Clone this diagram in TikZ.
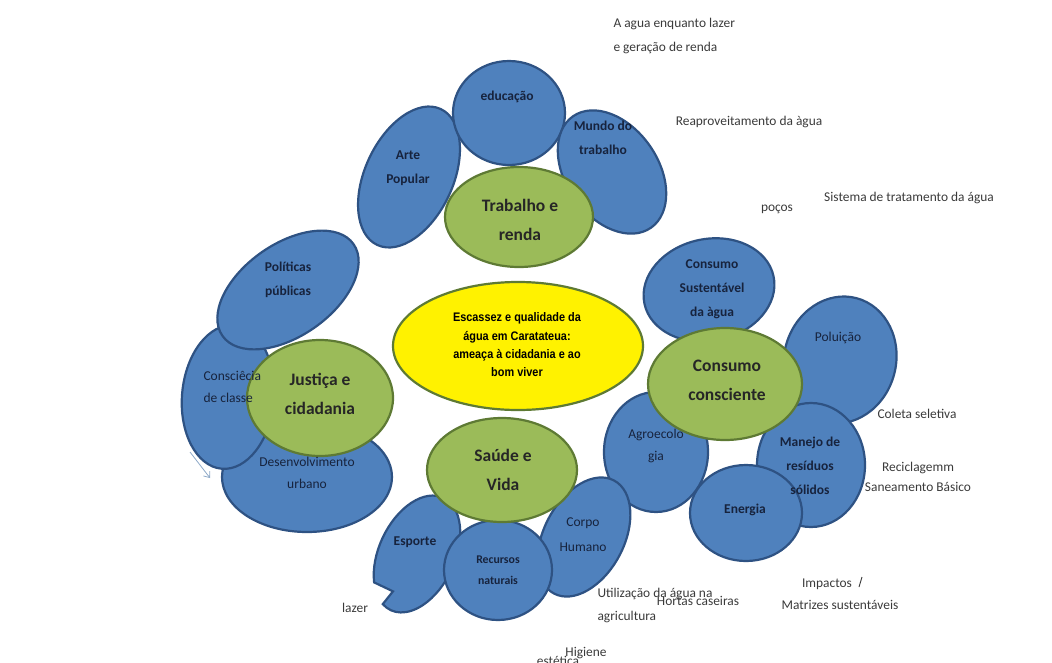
\documentclass[tikz,border=0pt]{standalone}
\usepackage{fontspec}
\setmainfont{Carlito}
\newfontfamily\narrowfont[FakeStretch=0.88]{Liberation Sans}
\usetikzlibrary{shapes.geometric,arrows.meta}

\definecolor{blobfill}{HTML}{4F81BD}
\definecolor{blobline}{HTML}{2E5283}
\definecolor{hubfill}{HTML}{9BBB59}
\definecolor{hubline}{HTML}{5E7A34}
\definecolor{navy}{HTML}{17233D}
\definecolor{notegray}{HTML}{3A3A3A}
\definecolor{steel}{HTML}{8EA9C8}

\tikzset{
  ew/.style 2 args={minimum width=#1pt, minimum height=#2pt},
  blobpaint/.style={draw=blobline, fill=blobfill, line width=2.2pt},
  blob/.style={ellipse, blobpaint, inner sep=0pt},
  hub/.style={ellipse, draw=hubline, fill=hubfill, line width=2.2pt, inner sep=0pt},
  core/.style={ellipse, draw=hubline, fill=yellow, line width=2.2pt, inner sep=0pt},
  btxt/.style={align=center, text=navy, font=\fontsize{13.5}{24}\selectfont\bfseries},
  ntxt/.style={align=center, text=navy, font=\fontsize{13.5}{22}\selectfont},
  htxt/.style={align=center, text=black!85, font=\fontsize{17.5}{29}\selectfont\bfseries},
  note/.style={align=center, text=notegray, font=\fontsize{13.4}{24}\selectfont},
}

\begin{document}
\begin{tikzpicture}[x=1pt, y=-1pt]
\useasboundingbox (0,0) rectangle (1052,662);

% Justica e cidadania
\node[blob, ew={170}{110}] (desurb) at (307,477) {};
\node[blob, ew={144}{92}, rotate=85] (consc) at (228,397) {};
\node[blob, ew={160}{92}, rotate=35] (polit) at (288,290) {};
\node[hub, ew={146}{116}] (justica) at (320,398) {};

% Trabalho e renda
\node[blob, ew={150}{88}, rotate=65] (arte) at (409,177) {};
\node[blob, ew={112}{104}] (edu) at (509,113) {};
\node[blob, ew={136}{92}, rotate=-55] (mundo) at (612,172) {};
\node[hub, ew={148}{100}] (trabalho) at (519,217) {};

% Consumo consciente
\node[blob, ew={132}{102}, rotate=12] (sust) at (709,290) {};
\node[blob, ew={128}{112}, rotate=75] (polui) at (840,360) {};
\node[blob, ew={104}{120}] (agro) at (656,452) {};
\node[blob, ew={108}{124}] (manejo) at (811,465) {};
\node[blob, ew={112}{96}] (energia) at (746,513) {};
\node[hub, ew={154}{112}] (consumo) at (725,384) {};

% Saude e Vida
\begin{scope}[shift={(417,554)}, rotate=65]
  \draw[blobpaint] (225:62 and 38) arc[start angle=225, end angle=555, x radius=62, y radius=38]
    -- (-44,-6) -- cycle; % esporte
\end{scope}
\node[blob, ew={128}{80}, rotate=62] (corpo) at (584,537) {};
\node[blob, ew={108}{100}] (recursos) at (498,570) {};
\node[hub, ew={150}{104}] (saude) at (502,470) {};

% centre
\node[core, ew={250}{128}] (tema) at (518,346) {};

% labels
\node[htxt] (trabalho-t) at (520,220) {Trabalho e\\renda};
\node[htxt] (justica-t) at (320,394) {Justiça e\\cidadania};
\node[htxt] (consumo-t) at (727,380) {Consumo\\consciente};
\node[htxt] (saude-t) at (503,470) {Saúde e\\Vida};
\node[align=center, font=\narrowfont\bfseries\fontsize{12.4}{18.3}\selectfont] (tema-t) at (517,345)
  {Escassez e qualidade da\\água em Caratateua:\\ameaça à cidadania e ao\\bom viver};

\node[btxt] (edu-t) at (507,97) {educação};
\node[btxt] (arte-t) at (408,168) {Arte\\Popular};
\node[btxt] (mundo-t) at (603,138) {Mundo do\\trabalho};
\node[btxt] (polit-t) at (288,280) {Políticas\\públicas};
\node[ntxt, align=left, anchor=west] (consc-t) at (200,387) {Consciêcia\\de classe};
\node[ntxt] (desurb-t) at (307,473) {Desenvolvimento\\urbano};
\node[btxt] (sust-t) at (712,289) {Consumo\\Sustentável\\da àgua};
\node[ntxt] (polui-t) at (838,338) {Poluição};
\node[ntxt] (agro-t) at (656,446) {Agroecolo\\gia};
\node[btxt] (manejo-t) at (810,466) {Manejo de\\resíduos\\sólidos};
\node[btxt] (energia-t) at (745,510) {Energia};
\node[btxt] (esporte-t) at (415,542) {Esporte};
\node[btxt, font=\fontsize{11.8}{21}\selectfont\bfseries] (recursos-t) at (498,570) {Recursos\\naturais};
\node[ntxt, font=\fontsize{13.5}{25}\selectfont] (corpo-t) at (583,535) {Corpo\\Humano};

% loose notes
\node[note, align=left, anchor=west] (lazerRenda) at (610,36) {A agua enquanto lazer\\e geração de renda};
\node[note] (reaprov) at (749,122) {Reaproveitamento da àgua};
\node[note] (pocos) at (777,209) {poços};
\node[note] (sistema) at (909,198) {Sistema de tratamento da água};
\node[note] (coleta) at (917,414) {Coleta seletiva};
\node[note, font=\fontsize{13.4}{20}\selectfont] (recicla) at (918,477) {Reciclagemm\\Saneamento Básico};
\node[note] (impactos) at (827,584) {Impactos};
\node[note] (matrizes) at (840,605) {Matrizes sustentáveis};
\node[note, align=left, anchor=west, font=\fontsize{13.4}{23}\selectfont] (utiliz) at (594,605) {Utilização da água na\\agricultura};
\node[note] (hortas) at (698,601) {Hortas caseiras};
\node[note] (lazer) at (355,608) {lazer};
\node[note] (estetica) at (558,661) {estética};
\node[note] (higiene) at (586,653) {Higiene};

\coordinate (slashA) at (862,577);
\coordinate (slashB) at (859,587);
\draw[notegray, line width=0.9pt] (slashA) -- (slashB);

\coordinate (tailA) at (190,452);
\coordinate (tipA) at (210,478);
\draw[steel, line width=0.8pt, -{Straight Barb[length=5pt,width=8pt]}] (tailA) -- (tipA);

\end{tikzpicture}
\end{document}
